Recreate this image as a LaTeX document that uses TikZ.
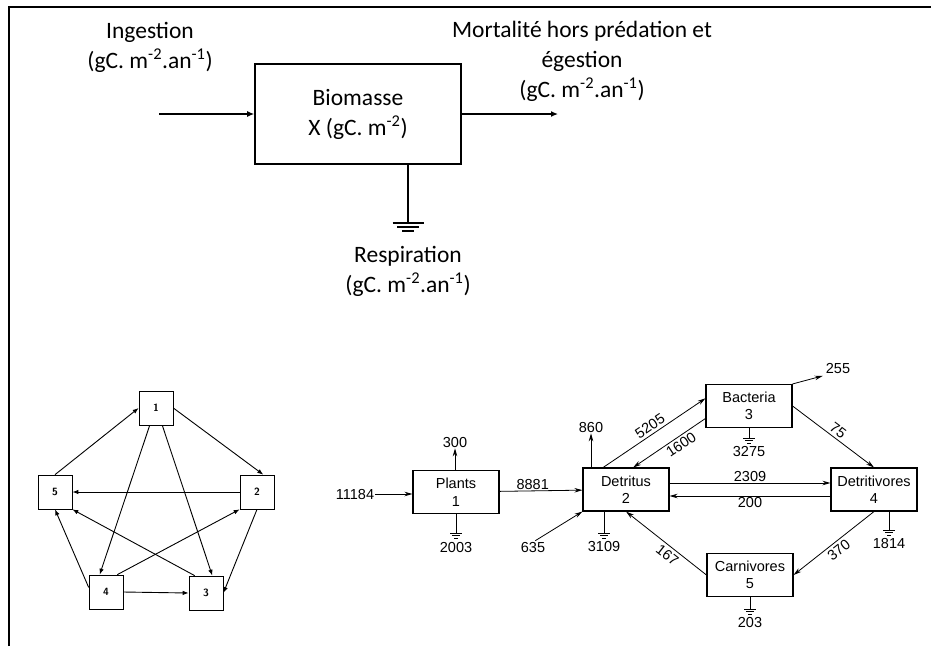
\documentclass[tikz,border=0pt]{standalone}
\usepackage{fontspec}
\newfontfamily\calib{Carlito}
\newfontfamily\helv{Liberation Sans}
\usetikzlibrary{arrows.meta,positioning}

\begin{document}
\begin{tikzpicture}[x=1pt, y=-1pt,
    toptxt/.style={font=\calib\fontsize{23.5}{30}\selectfont, align=center, inner sep=0pt},
    biobox/.style={draw, line width=1.6pt, minimum width=206pt, minimum height=100pt, toptxt},
    topflow/.style={-{Latex[length=7pt,width=6pt]}, line width=1.3pt},
    sq/.style={draw, line width=0.7pt, minimum size=34pt, inner sep=0pt, font=\sffamily\bfseries\fontsize{10.5}{12}\selectfont},
    pflow/.style={-{Latex[length=6pt,width=4.5pt]}, line width=0.9pt},
    netbox/.style={draw, line width=1.1pt, minimum width=86pt, minimum height=43pt, inner sep=1pt, align=center, font=\helv\fontsize{14.5}{17.5}\selectfont},
    num/.style={font=\helv\fontsize{14.5}{17}\selectfont, inner sep=1pt},
    nflow/.style={-{Stealth[length=8pt,width=4.5pt]}, line width=0.8pt},
    sink/.style={line width=0.8pt},
    bigearth/.pic={
        \draw[line width=1.3pt] (-15.5,0) -- (15.5,0);
        \draw[line width=1.3pt] (-11,4) -- (11,4);
        \draw[line width=1.3pt] (-6,8) -- (6,8);
    },
    earth/.pic={
        \draw[line width=0.7pt] (-6,0) -- (6,0);
        \draw[line width=0.7pt] (-4,2.5) -- (4,2.5);
        \draw[line width=0.7pt] (-2,5) -- (2,5);
    }
]
\useasboundingbox (0,0) rectangle (931,646);
\draw[line width=1.5pt] (9,646) -- (9,7) -- (931,7);

% compartment model
\node[biobox] (bio) at (358,114) {Biomasse\\X (gC. m\textsuperscript{-2})};
\node[toptxt] (ing) at (150,47) {Ingestion\\(gC. m\textsuperscript{-2}.an\textsuperscript{-1})};
\node[toptxt] (mort) at (582,61) {Mortalité hors prédation et\\égestion\\(gC. m\textsuperscript{-2}.an\textsuperscript{-1})};
\node[toptxt] (resp) at (408,271) {Respiration\\(gC. m\textsuperscript{-2}.an\textsuperscript{-1})};
\coordinate (ingin) at (159,114);
\coordinate (mortout) at (558,114);
\coordinate (respg) at (408,223);
\draw[topflow] (ingin) -- (bio.west);
\draw[topflow] (bio.east) -- (mortout);
\draw[line width=1.3pt] (bio.south -| respg) -- (respg);
\pic at (respg) {bigearth};

% five-node graph
\node[sq] (n1) at (156,408) {1};
\node[sq] (n2) at (257,492) {2};
\node[sq] (n3) at (206,593) {3};
\node[sq] (n4) at (106,592) {4};
\node[sq] (n5) at (55,492) {5};
\draw[pflow] (n5.north) -- (n1.west);
\draw[pflow] (n1.east) -- (n2.70);
\draw[pflow] (n1.250) -- (n4.110);
\draw[pflow] (n1.290) -- (n3.70);
\draw[pflow] (n2.west) -- (n5.east);
\draw[pflow] (n2.south) -- (n3.east);
\draw[pflow] (n4.57) -- (n2.south west);
\draw[pflow] (n3.123) -- (n5.south east);
\draw[pflow] (n4.165) -- (n5.south);
\draw[pflow] (n4.east) -- (n3.west);

% carbon flows
\node[netbox] (plants) at (456,492) {Plants\\1};
\node[netbox] (detritus) at (626,489.5) {Detritus\\2};
\node[netbox] (bacteria) at (749,406) {Bacteria\\3};
\node[netbox] (detritivores) at (874,489.5) {Detritivores\\4};
\node[netbox] (carnivores) at (750,575) {Carnivores\\5};

\node[num] (in1) at (355,494) {11184};
\node[num] (in2) at (533,547) {635};
\node[num] (out1) at (455,442) {300};
\node[num] (out2) at (591,427) {860};
\node[num] (out3) at (838,369) {255};

\draw[nflow] (in1.east) -- (in1.east -| plants.west);
\draw[nflow] (in2.70) -- (detritus.south west);
\draw[nflow] (plants.north -| out1) -- (out1.south);
\draw[nflow] (detritus.north -| out2) -- (out2.south);
\draw[nflow, shorten >=2pt] (bacteria.north east) -- (out3.south west);

\draw[nflow] (plants) -- (detritus) node[pos=0.4, above, num] {8881};
\draw[nflow] (detritus.136) -- (bacteria.170) node[midway, above=1.5pt, sloped, num] {5205};
\draw[nflow] (bacteria.196) -- (detritus.72) node[pos=0.4, below=1.5pt, sloped, num] {1600};
\draw[nflow] ([yshift=6.5pt]detritus.east) -- ([yshift=6.5pt]detritivores.west) node[midway, above, num] {2309};
\draw[nflow] ([yshift=-6.5pt]detritivores.west) -- ([yshift=-6.5pt]detritus.east) node[midway, below, num] {200};
\draw[nflow] (bacteria.east) -- (detritivores.north) node[midway, above=1.5pt, sloped, num] {75};
\draw[nflow] (detritivores.south) -- (carnivores.east) node[midway, below=1.5pt, sloped, num] {370};
\draw[nflow] (carnivores.west) -- (detritus.south) node[pos=0.42, below=2pt, sloped, num] {167};

% respiration sinks
\coordinate (g1) at (456,533);
\coordinate (g2) at (604,533);
\coordinate (g3) at (749,438);
\coordinate (g4) at (889,530);
\coordinate (g5) at (750,609);
\draw[sink] (plants.south) -- (g1);
\draw[sink] (detritus.south -| g2) -- (g2);
\draw[sink] (bacteria.south) -- (g3);
\draw[sink] (detritivores.south -| g4) -- (g4);
\draw[sink] (carnivores.south) -- (g5);
\foreach \g in {g1,g2,g3,g4,g5}
    \pic at (\g) {earth};
\node[num, below=8.5pt of g1] (r1) {2003};
\node[num, below=7pt of g2] (r2) {3109};
\node[num, below=7pt of g3] (r3) {3275};
\node[num, below=7pt of g4] (r4) {1814};
\node[num, below=7.5pt of g5] (r5) {203};
\end{tikzpicture}
\end{document}
